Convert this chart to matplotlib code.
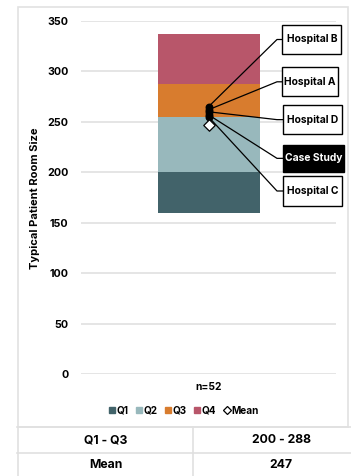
import matplotlib

matplotlib.use("Agg")
import matplotlib.pyplot as plt
from matplotlib.patches import Rectangle
from matplotlib.lines import Line2D

plt.rcParams["font.family"] = ["Inter", "DejaVu Sans"]
plt.rcParams["font.weight"] = "bold"

# quartile bands (stacked on an invisible base at the minimum)
q_names = ["Q1", "Q2", "Q3", "Q4"]
q_base = 160
q_bounds = [200, 255, 288, 337]
q_colors = ["#42636a", "#98b8bc", "#d87c2e", "#b8566a"]
mean_value = 247

hospitals = ["Hospital B", "Hospital A", "Hospital D", "Case Study", "Hospital C"]
hospital_values = [265, 262, 260, 257, 255]
category = "n=52"

table_rows = [("Q1 - Q3", "200 - 288"), ("Mean", "247")]

W, H = 351, 476
fig = plt.figure(figsize=(W / 100, H / 100), dpi=100)

# main plotting area placed in pixel terms
ax = fig.add_axes([81 / W, (H - 374) / H, 255 / W, 353 / H])
ax.set_xlim(-0.5, 0.5)
ax.set_ylim(0, 350)
for s in ax.spines.values():
    s.set_visible(False)
ax.set_yticks(range(0, 351, 50))
ax.yaxis.grid(True, color="#dedede", linewidth=1.1)
ax.set_axisbelow(True)
ax.tick_params(axis="y", length=0, labelsize=7.7, pad=9)
ax.set_xticks([0])
ax.set_xticklabels([category], fontsize=7.4)
ax.tick_params(axis="x", length=0, pad=6)
for lbl in ax.get_yticklabels() + ax.get_xticklabels():
    lbl.set_fontweight("bold")

bottom = q_base
for name, top, col in zip(q_names, q_bounds, q_colors):
    ax.bar(0, top - bottom, bottom=bottom, width=0.4, color=col, zorder=2)
    bottom = top

ax.scatter([0] * len(hospital_values), hospital_values, s=22, color="black",
           zorder=4)
ax.scatter([0], [mean_value], marker="D", s=34, facecolor="white",
           edgecolor="black", linewidth=0.9, zorder=5)

ax.set_ylabel("Typical Patient Room Size", fontsize=8, fontweight="bold")
ax.yaxis.set_label_coords(-(81 - 40) / 255, (374 - 198.4) / 353)

# overlay in pixel coordinates for frame, callouts and table
ov = fig.add_axes([0, 0, 1, 1], zorder=10)
ov.set_xlim(0, W)
ov.set_ylim(H, 0)
ov.axis("off")
ov.patch.set_alpha(0)

# outer chart frame
ov.add_patch(Rectangle((18, 7), 330, 420, facecolor="none",
                       edgecolor="#e2e2e2", linewidth=1.2))

# callout boxes: (left, top, right, bottom)
boxes = [(282.3, 25, 341.3, 54), (282.3, 67.3, 337.7, 96.3),
         (282.7, 105, 341.7, 134.3), (282.7, 145, 344, 171.7),
         (282.7, 176, 342.3, 206)]
to_px = ov.transData.inverted()
for name, val, (x0, y0, x1, y1) in zip(hospitals, hospital_values, boxes):
    px, py = to_px.transform(ax.transData.transform((0, val)))
    cy = (y0 + y1) / 2
    ov.add_line(Line2D([px, 277, x0], [py, cy, cy], color="black",
                       linewidth=0.9, zorder=3))
    dark = name == "Case Study"
    ov.add_patch(Rectangle((x0, y0), x1 - x0, y1 - y0,
                           facecolor="black" if dark else "white",
                           edgecolor="black", linewidth=1.0, zorder=4))
    ov.text((x0 + x1) / 2, cy, name, ha="center", va="center", fontsize=7.4,
            fontweight="bold", color="white" if dark else "black", zorder=5)

# legend row
handles = [Line2D([], [], marker="s", linestyle="none", markersize=4.6,
                  markerfacecolor=c, markeredgecolor=c) for c in q_colors]
handles.append(Line2D([], [], marker="D", linestyle="none", markersize=3.6,
                      markerfacecolor="white", markeredgecolor="black",
                      markeredgewidth=0.9))
leg = fig.legend(handles, q_names + ["Mean"], loc="center",
                 bbox_to_anchor=(184 / W, 1 - 410.7 / H), ncol=5, frameon=False,
                 handlelength=0.5, handletextpad=0.2, columnspacing=0.8,
                 prop={"weight": "bold", "size": 7.2})

# summary table
ov.add_line(Line2D([17, W], [427, 427], color="#e0e0e0", linewidth=1.2))
ov.add_line(Line2D([17, W], [453, 453], color="#e0e0e0", linewidth=1.2))
ov.add_line(Line2D([17.5, 17.5], [427, H], color="#e0e0e0", linewidth=1.2))
ov.add_line(Line2D([193, 193], [427, H], color="#e0e0e0", linewidth=1.2))
row_y = [440, 465]
for (left, right), y in zip(table_rows, row_y):
    ov.text(106, y, left, ha="center", va="center", fontsize=8.8,
            fontweight="bold")
    ov.text(281, y, right, ha="center", va="center", fontsize=8.8,
            fontweight="bold")

fig.savefig("out.png", dpi=100)
